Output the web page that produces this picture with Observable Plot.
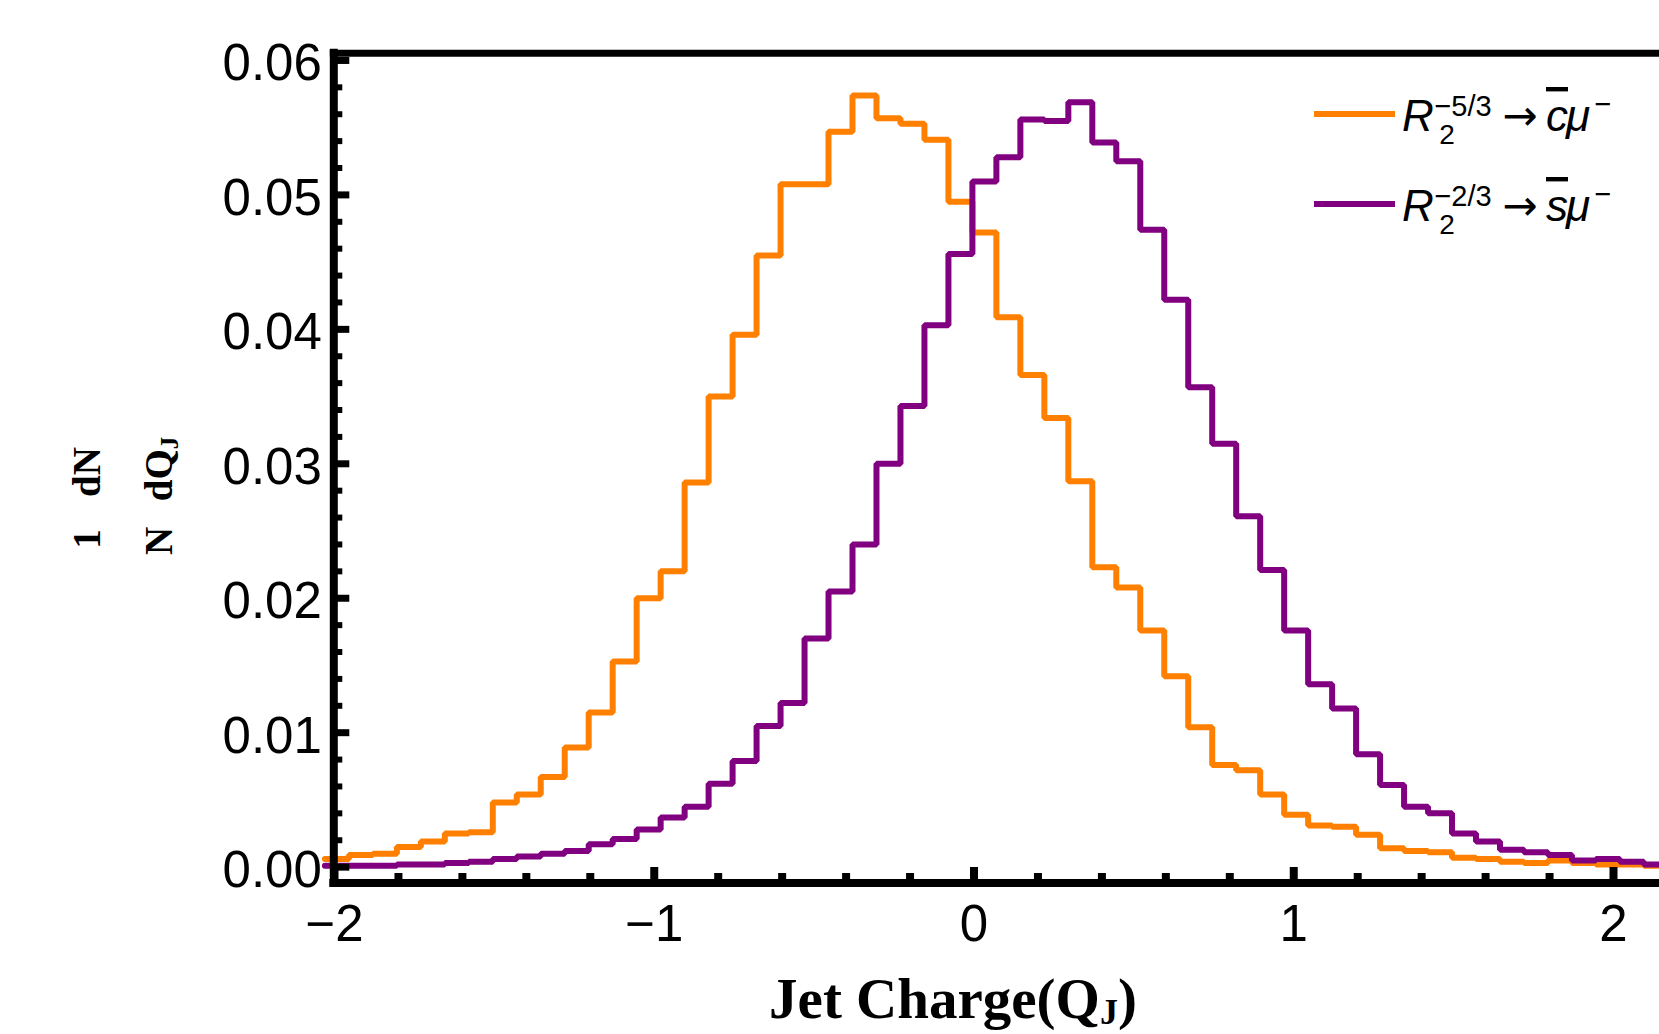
<!DOCTYPE html>
<html>
<head>
<meta charset="utf-8">
<script src="https://cdn.jsdelivr.net/npm/d3@7"></script>
<script src="https://cdn.jsdelivr.net/npm/@observablehq/plot@0.6"></script>
<style>
html, body { margin: 0; padding: 0; background: #fff; overflow: hidden; }
#chart svg { display: block; }
</style>
</head>
<body>
<div id="chart"></div>
<script>
// ---- data ----
const binStart = -2.030;   // left edge of the first histogram bin
const binWidth = 0.075;    // bin width in Q_J

const seriesNames = ["R2^-5/3 -> cbar mu-", "R2^-2/3 -> sbar mu-"];
const seriesColors = ["#FF8000", "#800080"];

// R2^{-5/3} -> c̄ μ⁻  (orange)
const orangeValues = [
  0.0006, 0.0009, 0.0010, 0.0015, 0.0019, 0.0025, 0.0026, 0.0048, 0.0054, 0.0067,
  0.0089, 0.0115, 0.0153, 0.0200, 0.0220, 0.0286, 0.0350, 0.0396, 0.0455, 0.0508,
  0.0508, 0.0547, 0.0574, 0.0557, 0.0553, 0.0541, 0.0495, 0.0472, 0.0409, 0.0366,
  0.0334, 0.0287, 0.0223, 0.0208, 0.0176, 0.0142, 0.0104, 0.0076, 0.0072, 0.0054,
  0.0039, 0.0031, 0.0030, 0.0024, 0.0014, 0.0012, 0.0011, 0.0007, 0.0006, 0.0004,
  0.0003, 0.0005, 0.0003, 0.0002, 0.0002, 0.0001
];
// R2^{-2/3} -> s̄ μ⁻  (purple)
const purpleValues = [
  0.0001, 0.0001, 0.0001, 0.0002, 0.0002, 0.0003, 0.0004, 0.0006, 0.0008, 0.0010,
  0.0012, 0.0017, 0.0021, 0.0028, 0.0037, 0.0045, 0.0062, 0.0079, 0.0105, 0.0122,
  0.0170, 0.0205, 0.0240, 0.0300, 0.0343, 0.0403, 0.0456, 0.0510, 0.0528, 0.0556,
  0.0555, 0.0569, 0.0539, 0.0525, 0.0474, 0.0422, 0.0357, 0.0315, 0.0261, 0.0221,
  0.0176, 0.0136, 0.0118, 0.0084, 0.0061, 0.0045, 0.0040, 0.0025, 0.0019, 0.0013,
  0.0011, 0.0009, 0.0005, 0.0006, 0.0004, 0.0002
];

const xMajorTicks = [-2, -1, 0, 1, 2];
const xMinorTicks = [-1.8, -1.6, -1.4, -1.2, -0.8, -0.6, -0.4, -0.2, 0.2, 0.4, 0.6, 0.8, 1.2, 1.4, 1.6, 1.8];
const yMajorTicks = [0, 0.01, 0.02, 0.03, 0.04, 0.05, 0.06];
const yMinorTicks = [0.002, 0.004, 0.006, 0.008, 0.012, 0.014, 0.016, 0.018, 0.022, 0.024, 0.026, 0.028,
  0.032, 0.034, 0.036, 0.038, 0.042, 0.044, 0.046, 0.048, 0.052, 0.054, 0.056, 0.058];

// ---- layout ----
const W = 1659, H = 1034;
const mL = 333.3, mT = 52.7, mB = 151.5, mR = 0;
const pxPerUnit = 319.75;
const xDomain = [-2.0022, -2.0022 + (W - mL - mR) / pxPerUnit];
const yDomain = [-0.00118, 0.06054];
const plotW = W - mL - mR, plotH = H - mT - mB;

function steps(values, name) {
  const pts = values.map((v, i) => ({x: binStart + i * binWidth, y: v, series: name}));
  pts.push({x: binStart + values.length * binWidth, y: values[values.length - 1], series: name});
  return pts;
}
const orangeSteps = steps(orangeValues, seriesNames[0]);
const purpleSteps = steps(purpleValues, seriesNames[1]);

const fmtX = d => d < 0 ? "\u2212" + Math.abs(d) : String(d);
const fmtY = d => d.toFixed(2);
const sans = "'Liberation Sans', Arial, Helvetica, sans-serif";

const plot = Plot.plot({
  width: W, height: H,
  marginLeft: mL, marginTop: mT, marginBottom: mB, marginRight: mR,
  x: {domain: xDomain, axis: null},
  y: {domain: yDomain, axis: null},
  style: {background: "white", fontFamily: sans, overflow: "visible"},
  marks: [
    Plot.lineY(orangeSteps, {x: "x", y: "y", curve: "step-after", stroke: seriesColors[0], strokeWidth: 6, strokeLinejoin: "miter"}),
    Plot.lineY(purpleSteps, {x: "x", y: "y", curve: "step-after", stroke: seriesColors[1], strokeWidth: 6, strokeLinejoin: "miter"}),
    // frame
    Plot.ruleX([xDomain[0]], {stroke: "black", strokeWidth: 8, strokeLinecap: "square"}),
    Plot.ruleY([yDomain[0]], {stroke: "black", strokeWidth: 8, strokeLinecap: "square"}),
    Plot.ruleY([yDomain[1]], {stroke: "black", strokeWidth: 7, strokeLinecap: "square"}),
    // inward ticks
    Plot.tickY(yMajorTicks, {y: d => d, stroke: "black", strokeWidth: 7, insetRight: plotW - 16}),
    Plot.tickY(yMinorTicks, {y: d => d, stroke: "black", strokeWidth: 6, insetRight: plotW - 9}),
    Plot.tickX(xMajorTicks, {x: d => d, stroke: "black", strokeWidth: 8, insetTop: plotH - 15.5}),
    Plot.tickX(xMinorTicks, {x: d => d, stroke: "black", strokeWidth: 8, insetTop: plotH - 9.5}),
    // tick labels
    Plot.axisX(xMajorTicks, {anchor: "bottom", tickSize: 0, tickPadding: 21.5, tickFormat: fmtX, fontSize: 51, fontFamily: sans, label: null}),
    Plot.axisY(yMajorTicks, {anchor: "left", tickSize: 0, tickPadding: 12, tickFormat: fmtY, fontSize: 51, fontFamily: sans, dy: 3.5, label: null})
  ]
});

document.getElementById("chart").appendChild(plot);

// ---- titles & legend ----
const svg = d3.select(plot);
const serif = "'Liberation Serif', 'Times New Roman', Times, serif";

// x-axis title
const xt = svg.append("text")
  .attr("x", 953).attr("y", 1018)
  .attr("text-anchor", "middle")
  .attr("font-family", serif).attr("font-weight", "bold").attr("font-size", 57)
  .attr("fill", "black");
xt.append("tspan").text("Jet Charge(Q");
xt.append("tspan").attr("font-size", 36).attr("dy", 6).text("J");
xt.append("tspan").attr("dy", -6).text(")");

// y-axis title: (1/N)(dN/dQ_J) laid out in two rotated rows
function rotText(x, y, parts) {
  const t = svg.append("text")
    .attr("transform", `translate(${x},${y}) rotate(-90)`)
    .attr("text-anchor", "middle")
    .attr("font-family", serif).attr("font-weight", "bold").attr("font-size", 39)
    .attr("fill", "black");
  parts.forEach(p => {
    const s = t.append("tspan").text(p.t);
    if (p.fs) s.attr("font-size", p.fs);
    if (p.dy) s.attr("dy", p.dy);
  });
  return t;
}
rotText(100, 539, [{t: "1"}]);
rotText(100, 472, [{t: "dN"}]);
rotText(172, 541, [{t: "N"}]);
rotText(172, 469, [{t: "dQ"}, {t: "J", fs: 25, dy: 6}]);

// legend
const legendRows = [
  {y: 114, color: seriesColors[0], exp: "\u22125/3", quark: "c"},
  {y: 204, color: seriesColors[1], exp: "\u22122/3", quark: "s"}
];
legendRows.forEach(r => {
  svg.append("line")
    .attr("x1", 1314).attr("x2", 1395).attr("y1", r.y).attr("y2", r.y)
    .attr("stroke", r.color).attr("stroke-width", 6);
  const B = r.y + 17;
  const t = svg.append("text")
    .attr("font-family", sans).attr("font-size", 44).attr("fill", "black");
  t.append("tspan").attr("x", 1418).attr("y", B).attr("font-style", "italic").text("R");
  t.append("tspan").attr("x", 1447).attr("y", B + 13).attr("font-size", 28).text("2");
  t.append("tspan").attr("x", 1463).attr("y", B - 15).attr("font-size", 29).text(r.exp);
  t.append("tspan").attr("x", 1520).attr("y", B - 1).attr("font-family", "'DejaVu Sans', sans-serif").attr("font-size", 42).text("\u2192");
  t.append("tspan").attr("x", 1557).attr("y", B).attr("font-style", "italic")
    .style("text-decoration", "overline").text(r.quark);
  t.append("tspan").attr("x", 1578).attr("y", B).attr("font-style", "italic").text("\u03bc");
  t.append("tspan").attr("x", 1603).attr("y", B - 17).attr("font-size", 29).text("\u2212");
});
</script>
</body>
</html>
